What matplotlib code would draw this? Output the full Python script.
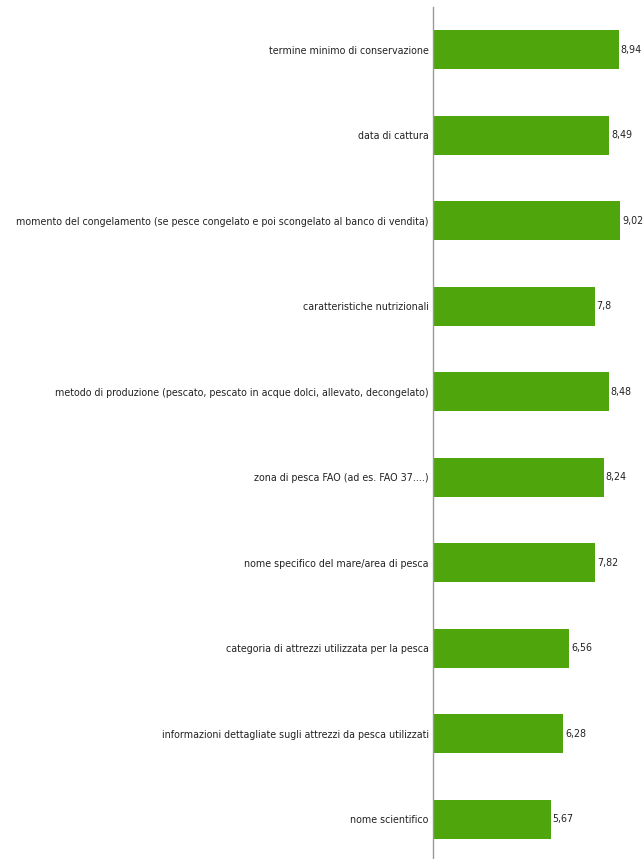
import matplotlib
matplotlib.use("Agg")
import matplotlib.pyplot as plt
from matplotlib import font_manager
from matplotlib.font_manager import FontProperties

categories = [
    "termine minimo di conservazione",
    "data di cattura",
    "momento del congelamento (se pesce congelato e poi scongelato al banco di vendita)",
    "caratteristiche nutrizionali",
    "metodo di produzione (pescato, pescato in acque dolci, allevato, decongelato)",
    "zona di pesca FAO (ad es. FAO 37....)",
    "nome specifico del mare/area di pesca",
    "categoria di attrezzi utilizzata per la pesca",
    "informazioni dettagliate sugli attrezzi da pesca utilizzati",
    "nome scientifico",
]
values = [8.94, 8.49, 9.02, 7.8, 8.48, 8.24, 7.82, 6.56, 6.28, 5.67]
value_labels = ["8,94", "8,49", "9,02", "7,8", "8,48", "8,24", "7,82", "6,56", "6,28", "5,67"]

# look for a condensed / narrow sans font
cond = None
for f in font_manager.fontManager.ttflist:
    nm = (f.name + " " + f.fname).lower()
    if ("narrow" in nm or "condensed" in nm or f.stretch in ("condensed", "semi-condensed", "extra-condensed")) \
            and "bold" not in nm and "oblique" not in nm and "italic" not in nm and "mono" not in nm \
            and "serif" not in f.name.lower():
        cond = f.fname
        break

if cond:
    fp_base = FontProperties(fname=cond)
else:
    fp_base = FontProperties(family=["Liberation Sans", "DejaVu Sans"])

W, H = 643, 859
fig = plt.figure(figsize=(W / 100, H / 100), dpi=100)
left = 433 / W
bottom = -3 / H
top = 7 / H
ax = fig.add_axes([left, bottom, 1 - left, 1 - top - bottom])

# fit font size so the longest label is ~415 px wide, as in the reference
renderer = fig.canvas.get_renderer()
probe_fp = fp_base.copy()
probe_fp.set_size(10)
t = fig.text(0, 0, categories[2], fontproperties=probe_fp)
wpx = t.get_window_extent(renderer).width
t.remove()
fs = min(10.5, 10 * 415 / wpx)
fp = fp_base.copy()
fp.set_size(fs)

n = len(categories)
y = list(range(n))
ax.barh(y, values, height=0.456, color="#4ea50c", zorder=2)
ax.set_ylim(n - 0.5, -0.5)
ax.set_xlim(0, 210 / 20.77)

for yi, v, lab in zip(y, values, value_labels):
    ax.text(v + 0.08, yi, lab, va="center", ha="left", fontproperties=fp, color="#222222")

ax.set_yticks(y)
ax.set_yticklabels(categories, color="#222222")
for lbl in ax.get_yticklabels():
    lbl.set_fontproperties(fp)
ax.tick_params(axis="y", length=0, pad=3)
ax.set_xticks([])
for s in ["top", "right", "bottom"]:
    ax.spines[s].set_visible(False)
ax.spines["left"].set_color("#999999")
ax.spines["left"].set_linewidth(1.0)

fig.savefig("out.png", dpi=100)
